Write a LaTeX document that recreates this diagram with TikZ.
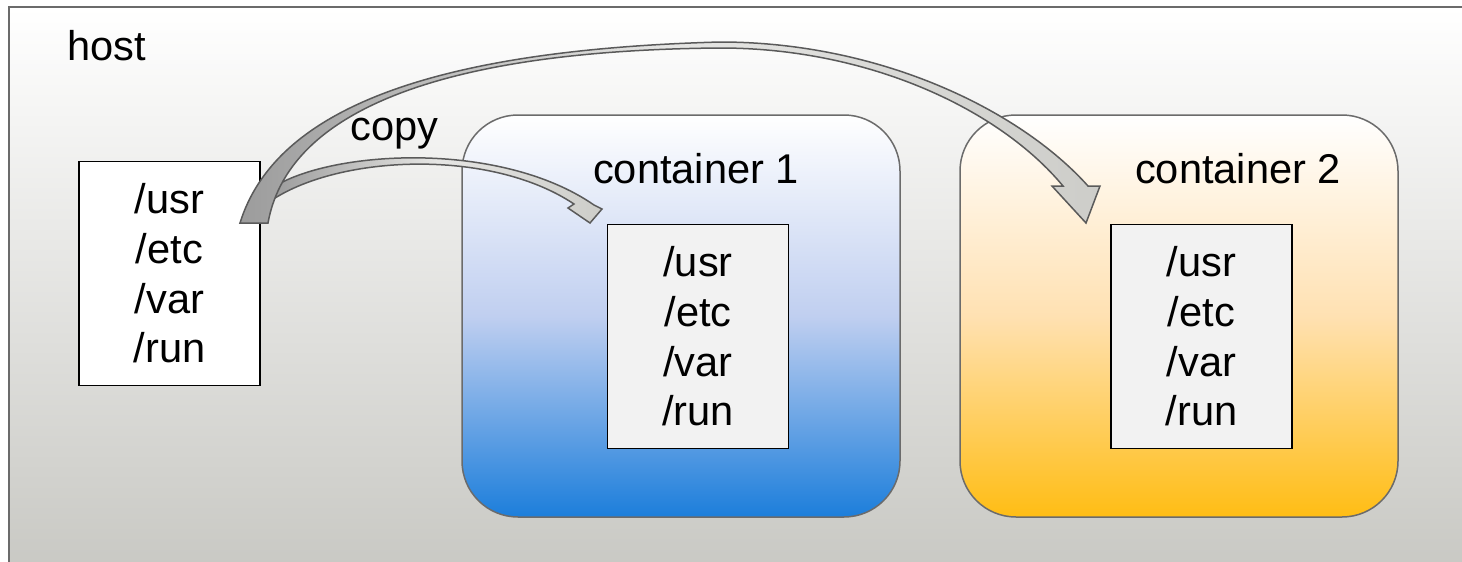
\documentclass[tikz,border=0pt]{standalone}
\usepackage{fontspec}
\setmainfont{Liberation Sans}
\definecolor{hostedge}{HTML}{6B6B6B}
\definecolor{hostbot}{HTML}{C8C8C3}
\definecolor{blueC}{HTML}{1C7EDB}
\definecolor{blueM}{HTML}{C0CFF0}
\definecolor{goldC}{HTML}{FFBD14}
\definecolor{goldM}{HTML}{FFE1B2}
\definecolor{dirfill}{HTML}{F2F2F2}
\definecolor{arrowedge}{HTML}{5A5A5A}
\definecolor{arrowdark}{HTML}{9C9C9C}
\definecolor{arrowmid}{HTML}{E6E6E4}
\definecolor{arrowlight}{HTML}{CDCDC9}
\begin{document}
\begin{tikzpicture}[x=0.5pt,y=-0.5pt,
  txt/.style={font=\fontsize{20.8}{24.8}\selectfont, inner sep=0pt},
  dirbox/.style={txt, draw=black, line width=0.75pt, align=center,
    minimum width=90.5pt, minimum height=112pt},
  container/.style={draw=hostedge, line width=0.75pt, rounded corners=28pt,
    minimum width=219pt, minimum height=201pt, inner sep=0pt, top color=white},
  blockarrow/.style={draw=arrowedge, line width=0.75pt, left color=arrowdark,
    right color=arrowlight, middle color=arrowmid}]
\useasboundingbox (0,0) rectangle (1462,562);
\clip (0,0) rectangle (1462,562);

% host frame
\draw[draw=hostedge, line width=0.75pt, top color=white, bottom color=hostbot]
  (9,7) rectangle (1480,575);
\node[txt, anchor=base west] (hostlabel) at (67,60) {host};

% host file system
\node[dirbox, fill=white] (hostfs) at (169.5,273.5) {/usr\\/etc\\/var\\/run};

% containers
\node[container, bottom color=blueC, middle color=blueM] (c1) at (681,316) {};
\node[container, bottom color=goldC, middle color=goldM] (c2) at (1179,316) {};
\node[txt, anchor=base] (c1label) at (696,183) {container 1};
\node[txt, anchor=base] (c2label) at (1238,183) {container 2};
\node[dirbox, fill=dirfill] (c1fs) at (698,336.5) {/usr\\/etc\\/var\\/run};
\node[dirbox, fill=dirfill] (c2fs) at (1201.5,336.5) {/usr\\/etc\\/var\\/run};

% curved copy arrow to container 1
\shadedraw[blockarrow]
  (272,188) .. controls (330,150) and (500,140) .. (594,205)
  -- (602,209) -- (590,223) -- (568,208) -- (574,204)
  .. controls (490,148) and (340,155) .. (272,200) -- cycle;

% curved copy arrow to container 2
\shadedraw[blockarrow]
  (240,223) .. controls (275,110) and (430,50) .. (720,42)
  .. controls (880,42) and (1020,110) .. (1088,186)
  -- (1100,186) -- (1086,223) -- (1052,186) -- (1063,186)
  .. controls (1000,110) and (870,48) .. (720,48)
  .. controls (470,50) and (290,100) .. (268,223) -- cycle;

\node[txt, anchor=base west] (copylabel) at (350,140) {copy};
\end{tikzpicture}
\end{document}
